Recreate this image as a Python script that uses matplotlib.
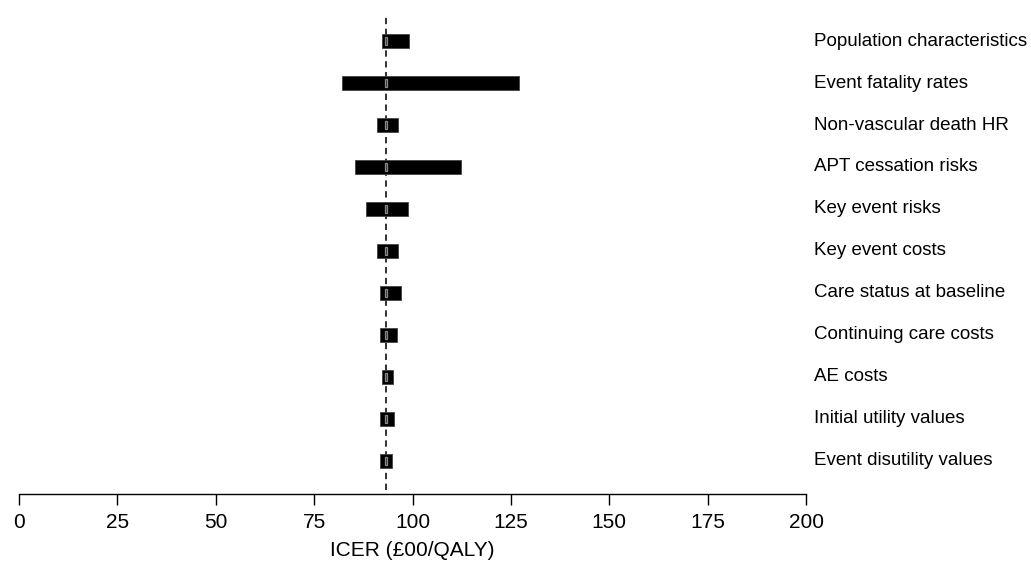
import numpy as np
import matplotlib.pyplot as plt

# tornado plot: one-way sensitivity ranges of the ICER
params = ['Population characteristics', 'Event fatality rates', 'Non-vascular death HR',
          'APT cessation risks', 'Key event risks', 'Key event costs',
          'Care status at baseline', 'Continuing care costs', 'AE costs',
          'Initial utility values', 'Event disutility values']
low = [92.3, 82.0, 91.0, 85.4, 88.2, 91.0, 91.7, 91.7, 92.2, 91.7, 91.7]
high = [99.1, 127.1, 96.3, 112.3, 98.9, 96.3, 97.1, 96.1, 95.0, 95.2, 94.9]
base = 93.2
xticks = [0, 25, 50, 75, 100, 125, 150, 175, 200]

plt.rcParams['font.family'] = ['Liberation Sans', 'DejaVu Sans']

fig = plt.figure(figsize=(10.31, 5.63), dpi=100)
ax = fig.add_axes([19 / 1031, 1 - 494 / 563, 787 / 1031, 484 / 563])

n = len(params)
ypos = np.arange(n)[::-1]
low = np.array(low)
high = np.array(high)

ax.plot([base, base], [-0.7, 10.62], color='#222222', lw=1.3, ls=(0, (3.5, 2.5)), zorder=1)
ax.barh(ypos, high - low, left=low, height=0.33, color='black', edgecolor='#444444', lw=0.6, zorder=2)
# small grey marker at the base case inside each bar
ax.barh(ypos, 0.6, left=base - 0.3, height=0.2, color='#222222', edgecolor='#8a8a8a', lw=0.9, zorder=3)

for y, p in zip(ypos, params):
    ax.text(202, y, p, ha='left', va='center', fontsize=13.5, clip_on=False)

ax.set_xlim(0, 200)
ax.set_ylim(-0.79, 10.74)
ax.set_xticks(xticks)
ax.set_xticklabels([str(t) for t in xticks], fontsize=15)
ax.set_yticks([])
ax.tick_params(axis='x', length=8, width=1, pad=6)
for s in ['top', 'right', 'left']:
    ax.spines[s].set_visible(False)
ax.spines['bottom'].set_linewidth(1)
ax.set_xlabel('ICER (£00/QALY)', fontsize=15, labelpad=6)

fig.savefig('out.png', dpi=100)
